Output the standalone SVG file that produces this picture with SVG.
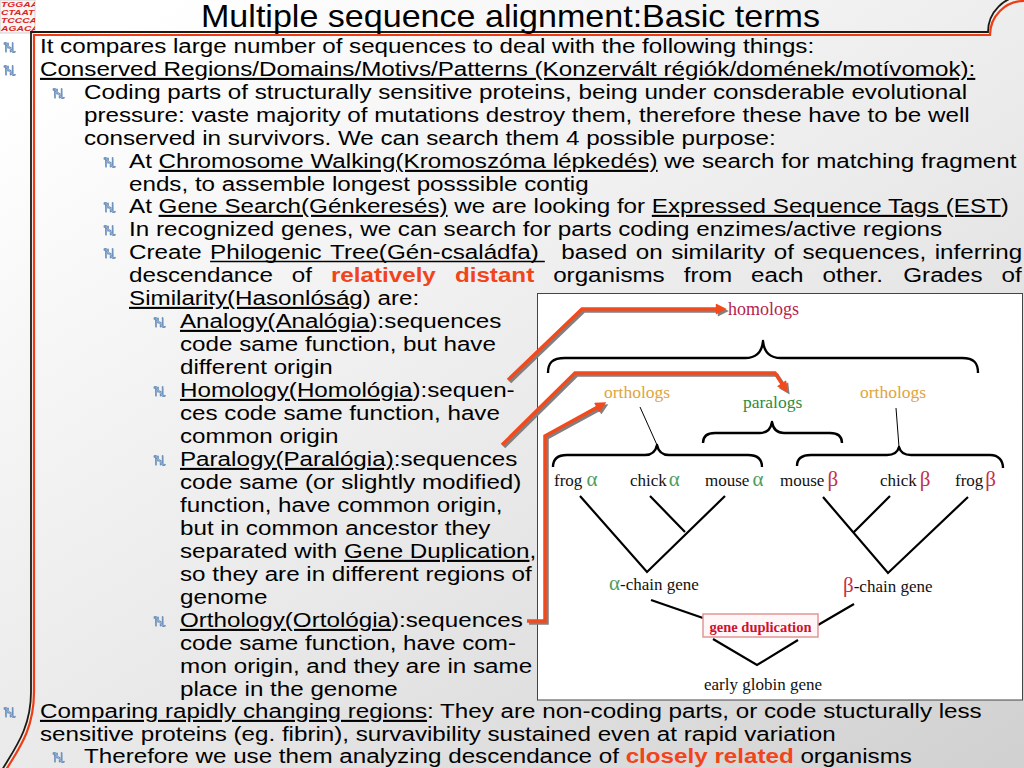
<svg xmlns="http://www.w3.org/2000/svg" width="1024" height="768" viewBox="0 0 1024 768">
<defs>
<linearGradient id="bg" x1="0.15" y1="0" x2="1" y2="1">
<stop offset="0" stop-color="#ffffff"/>
<stop offset="0.55" stop-color="#e8e8e8"/>
<stop offset="1" stop-color="#d0d0d0"/>
</linearGradient>
<clipPath id="logoclip"><rect x="0" y="0" width="35" height="33"/></clipPath>
<symbol id="bul" viewBox="0 0 14 12" overflow="visible">
<path d="M1.5,2.2 Q1,0.6 3,0.9 L3.2,10.6 M3,1 L10.6,10.8 M10.4,1 L10.6,10.8 Q11.2,11.6 13,10.6 M5.4,1.4 L5.4,6.2 M8.2,6 L8.2,10.4" fill="none" stroke="#6f93bd" stroke-width="1.9" stroke-linecap="round"/>
<path d="M3,1.2 L10.4,10.6" fill="none" stroke="#b9cde2" stroke-width="0.7"/>
</symbol>
<marker id="ah" viewBox="0 0 10 10" refX="2" refY="5" markerWidth="12" markerHeight="11" markerUnits="userSpaceOnUse" orient="auto">
<path d="M0,0 L10,5 L0,10 z" fill="#f24a1c"/>
</marker>
<marker id="ahs" viewBox="0 0 10 10" refX="2" refY="5" markerWidth="12" markerHeight="11" markerUnits="userSpaceOnUse" orient="auto">
<path d="M0,0 L10,5 L0,10 z" fill="#808080"/>
</marker>
</defs>
<style>
.body{font-family:"Liberation Sans",Arial,sans-serif;font-size:21px;fill:#000}
.u{text-decoration:underline}
.hl{font-weight:bold;fill:#f2441a}
.fig{font-family:"Liberation Serif","Times New Roman",serif;font-size:17px;fill:#111}
.ga{fill:#4f9c5a;font-size:21px}
.gb{fill:#c2304e;font-size:21px}
.br{fill:none;stroke:#000;stroke-width:2.4;stroke-linejoin:round}
.tr{stroke:#000;stroke-width:2.2;fill:none}
.arr{fill:none;stroke:#f24a1c;stroke-width:3.5;stroke-linejoin:miter}
.arrs{fill:none;stroke:#808080;stroke-width:3.5;stroke-linejoin:miter}
.logo{font-family:"Liberation Sans",Arial,sans-serif;font-size:8.6px;font-weight:bold;font-style:italic;fill:#e21f1c}
</style>
<rect x="0" y="0" width="1024" height="768" fill="url(#bg)"/>

<g id="logo">
<rect x="0" y="0" width="35" height="33" fill="#f6f6f6" stroke="#c8c8c8" stroke-width="0.8"/>
<g clip-path="url(#logoclip)">
<g transform="scale(1.2,0.8)" class="logo">
<text x="0.8" y="9">TGGAA</text>
<text x="0.8" y="19">CTAAT</text>
<text x="0.8" y="29">TCCCA</text>
<text x="0.8" y="39">AGACA</text>
</g>
</g>
</g>

<g id="frame">
<path d="M31,692 L31,32 L988,32 A36,36 0 0 1 1024,-4" fill="none" stroke="#1b1b14" stroke-width="1.8"/>
<path d="M31,692 C31,728 15,748 2,770" fill="none" stroke="#1b1b14" stroke-width="1.8"/>
<path d="M34,692 L34,35 L990,35 A34,34 0 0 1 1024,1" fill="none" stroke="#f03c14" stroke-width="2.2"/>
<path d="M34,692 C34,730 18,750 6,770" fill="none" stroke="#f03c14" stroke-width="2.2"/>
</g>

<text id="title" x="201" y="27" textLength="619" lengthAdjust="spacingAndGlyphs" font-family="Liberation Sans,Arial,sans-serif" font-size="32" fill="#000">Multiple sequence alignment:Basic terms</text>

<g id="bullets">
<use href="#bul" x="3" y="42" width="13" height="11"/>
<use href="#bul" x="3" y="65" width="13" height="11"/>
<use href="#bul" x="52" y="88" width="13" height="11"/>
<use href="#bul" x="103" y="157" width="13" height="11"/>
<use href="#bul" x="103" y="202" width="13" height="11"/>
<use href="#bul" x="103" y="225" width="13" height="11"/>
<use href="#bul" x="103" y="248" width="13" height="11"/>
<use href="#bul" x="153" y="317" width="13" height="11"/>
<use href="#bul" x="153" y="386" width="13" height="11"/>
<use href="#bul" x="153" y="455" width="13" height="11"/>
<use href="#bul" x="153" y="616" width="13" height="11"/>
<use href="#bul" x="3" y="707" width="13" height="11"/>
<use href="#bul" x="52" y="752" width="13" height="11"/>
</g>

<g id="bodytext" class="body" transform="scale(1.152,1)">
<text x="34.7" y="53">It compares large number of sequences to deal with the following things:</text>
<text x="34.7" y="76" class="u">Conserved Regions/Domains/Motivs/Patterns (Konzervált régiók/domének/motívomok):</text>
<text x="72.9" y="99">Coding parts of structurally sensitive proteins, being under consderable evolutional</text>
<text x="72.9" y="122">pressure: vaste majority of mutations destroy them, therefore these have to be well</text>
<text x="72.9" y="145">conserved in survivors. We can search them 4 possible purpose:</text>
<text x="112" y="168">At <tspan class="u">Chromosome Walking(Kromoszóma lépkedés)</tspan> we search for matching fragment</text>
<text x="112" y="191">ends, to assemble longest posssible contig</text>
<text x="112" y="213">At <tspan class="u">Gene Search(Génkeresés)</tspan> we are looking for <tspan class="u">Expressed Sequence Tags (EST</tspan>)</text>
<text x="112" y="236">In recognized genes, we can search for parts coding enzimes/active regions</text>
<text y="259"><tspan x="112">Create</tspan><tspan x="182.4">Philogenic</tspan><tspan x="286.5">Tree(Gén-családfa</tspan><tspan>)</tspan><tspan x="487.3">based</tspan><tspan x="551.9">on</tspan><tspan x="582.6">similarity</tspan><tspan x="671.7">of</tspan><tspan x="696.6">sequences,</tspan><tspan x="811.4">inferring</tspan></text>
<text y="282"><tspan x="112">descendance</tspan><tspan x="253.3">of</tspan><tspan x="287.3" class="hl">relatively</tspan><tspan x="394.9" class="hl">distant</tspan><tspan x="480.2">organisms</tspan><tspan x="593.5">from</tspan><tspan x="652">each</tspan><tspan x="714">other.</tspan><tspan x="784.1">Grades</tspan><tspan x="869.4">of</tspan></text>
<text x="112" y="305"><tspan class="u">Similarity(Hasonlóság</tspan>) are:</text>
<text x="156.25" y="328"><tspan class="u">Analogy(Analógia</tspan>):sequences</text>
<text x="156.25" y="351">code same function, but have</text>
<text x="156.25" y="374">different origin</text>
<text x="156.25" y="397"><tspan class="u">Homology(Homológia</tspan>):sequen-</text>
<text x="156.25" y="420">ces code same function, have</text>
<text x="156.25" y="443">common origin</text>
<text x="156.25" y="466"><tspan class="u">Paralogy(Paralógia)</tspan>:sequences</text>
<text x="156.25" y="489">code same (or slightly modified)</text>
<text x="156.25" y="512">function, have common origin,</text>
<text x="156.25" y="535">but in common ancestor they</text>
<text x="156.25" y="558">separated with <tspan class="u">Gene Duplication</tspan>,</text>
<text x="156.25" y="581">so they are in different regions of</text>
<text x="156.25" y="604">genome</text>
<text x="156.25" y="627"><tspan class="u">Orthology(Ortológia</tspan>):sequences</text>
<text x="156.25" y="650">code same function, have com-</text>
<text x="156.25" y="673">mon origin, and they are in same</text>
<text x="156.25" y="696">place in the genome</text>
<text x="34.7" y="718"><tspan class="u">Comparing rapidly changing regions</tspan>: They are non-coding parts, or code stucturally less</text>
<text x="34.7" y="741">sensitive proteins (eg. fibrin), survavibility sustained even at rapid variation</text>
<text x="72.9" y="763">Therefore we use them analyzing descendance of <tspan class="hl">closely related</tspan> organisms</text>
</g>
<line x1="210.1" y1="261.6" x2="544.8" y2="261.6" stroke="#000" stroke-width="1.5"/>

<g id="figure">
<rect x="537.5" y="293.5" width="485" height="406.5" fill="#ffffff" stroke="#444" stroke-width="1"/>
<g id="braces">
<path class="br" d="M548,373 C548,363 552,358 565,358 L745,358 C757,358 762,352 763,341 C764,352 769,358 781,358 L962,358 C974,358 978,363 978,373"/>
<path class="br" d="M703,443 C703,437 706,433 715,433 L760,433 C768,433 771,428 772,422 C773,428 776,433 784,433 L830,433 C839,433 842,437 842,443"/>
<path class="br" d="M553,467 C553,460 557,455 567,455 L645,455 C653,455 656,450 657,445 C658,450 661,455 669,455 L748,455 C758,455 762,460 762,467"/>
<path class="br" d="M797,466 C797,459 801,455 811,455 L887,455 C895,455 898,451 899,447 C900,451 903,455 911,455 L990,455 C999,455 1003,461 1003,468"/>
<line x1="640" y1="407" x2="657" y2="445" stroke="#000" stroke-width="1"/>
<line x1="896" y1="408" x2="899" y2="447" stroke="#000" stroke-width="1"/>
</g>
<g id="labels" class="fig">
<text x="728" y="315" font-size="18" fill="#b52350">homologs</text>
<text x="604" y="398" font-size="17.5" fill="#e0a43c">orthologs</text>
<text x="743" y="408" font-size="17.5" fill="#2e8b3e">paralogs</text>
<text x="860" y="398" font-size="17.5" fill="#e0a43c">orthologs</text>
<text x="554" y="486">frog <tspan class="ga">α</tspan></text>
<text x="630" y="486">chick<tspan class="ga" dx="2">α</tspan></text>
<text x="705" y="486">mouse<tspan class="ga" dx="3">α</tspan></text>
<text x="780" y="486">mouse<tspan class="gb" dx="3">β</tspan></text>
<text x="880" y="486">chick<tspan class="gb" dx="3">β</tspan></text>
<text x="955" y="486">frog<tspan class="gb" dx="2">β</tspan></text>
<text x="609" y="590"><tspan class="ga">α</tspan>-chain gene</text>
<text x="843" y="592"><tspan class="gb">β</tspan>-chain gene</text>
<text x="763" y="690" text-anchor="middle">early globin gene</text>
</g>
<g id="tree">
<path class="tr" d="M580,496 L647,572 L725,496 M650,496 L685,532"/>
<path class="tr" d="M823,497 L888,573 L968,497 M890,496 L853,533"/>
<path class="tr" d="M651,600 L703,618 M854,604 L818,625"/>
<path class="tr" d="M713,639 L757,665 L798,640"/>
</g>
<g id="geneduplication">
<rect x="703" y="614" width="115" height="23" fill="#fff7f7" stroke="#e29696" stroke-width="1.5"/>
<text x="760.5" y="631.5" text-anchor="middle" font-family="Liberation Serif,Times New Roman,serif" font-size="14.5" font-weight="bold" fill="#d01030">gene duplication</text>
</g>
</g>

<g id="connectors">
<g transform="translate(2,2)">
<path class="arrs" d="M508,380 L582,309 L718,309" marker-end="url(#ahs)"/>
<path class="arrs" d="M502,445 L575,373 L775,373 L782.8,385" marker-end="url(#ahs)"/>
<path class="arrs" d="M527,621 L545,621 L545,436 L598.6,406.6" marker-end="url(#ahs)"/>
</g>
<path class="arr" d="M508,380 L582,309 L718,309" marker-end="url(#ah)"/>
<path class="arr" d="M502,445 L575,373 L775,373 L782.8,385" marker-end="url(#ah)"/>
<path class="arr" d="M527,621 L545,621 L545,436 L598.6,406.6" marker-end="url(#ah)"/>
</g>
</svg>
